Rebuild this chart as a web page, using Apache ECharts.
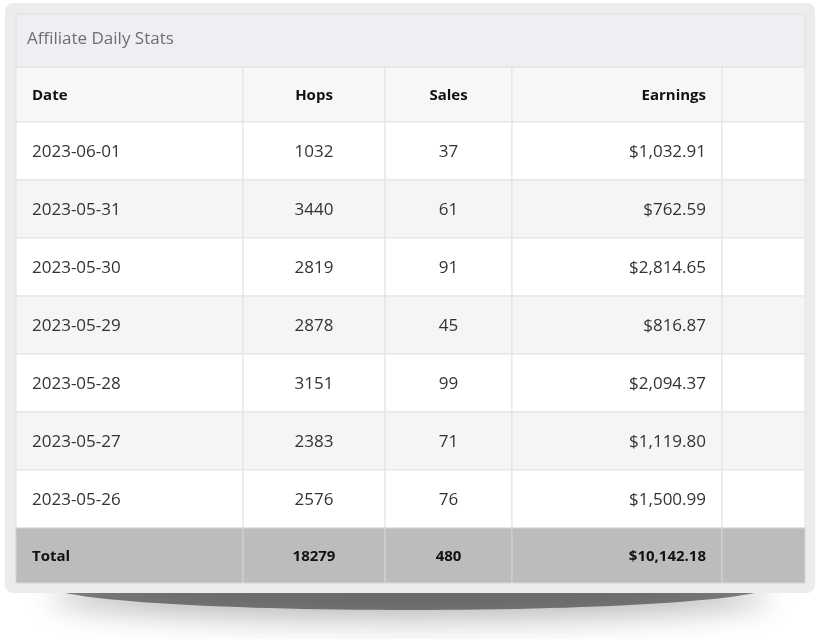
<!DOCTYPE html>
<html lang="en">
<head>
  <meta charset="UTF-8">
  <title>Affiliate Daily Stats</title>
  <style>
    html, body { margin: 0; padding: 0; background: #fff; }
    #main { width: 820px; height: 639px; }
  </style>
  <script src="https://cdn.jsdelivr.net/npm/echarts@6/dist/echarts.min.js"></script>
</head>
<body>
  <div id="main"></div>
  <script>
    var myChart = echarts.init(document.getElementById('main'));

    const title = 'Affiliate Daily Stats';
    const headers = ['Date', 'Hops', 'Sales', 'Earnings', ''];
    const dates = ['2023-06-01', '2023-05-31', '2023-05-30', '2023-05-29', '2023-05-28', '2023-05-27', '2023-05-26'];
    const hops = [1032, 3440, 2819, 2878, 3151, 2383, 2576];
    const sales = [37, 61, 91, 45, 99, 71, 76];
    const earnings = [1032.91, 762.59, 2814.65, 816.87, 2094.37, 1119.80, 1500.99];
    const totals = ['Total', '18279', '480', '$10,142.18', ''];

    // layout in page pixels
    const colEdges = [16, 243, 385, 512, 722, 805];
    const aligns = ['left', 'center', 'center', 'right', 'left'];
    const titleTop = 14, headTop = 67, headH = 55, rowH = 58, totalH = 55;

    function money(v) {
      return '$' + v.toLocaleString('en-US', { minimumFractionDigits: 2, maximumFractionDigits: 2 });
    }

    // build cells: [col, row, text, kind]
    let cells = [];
    headers.forEach((h, c) => cells.push([c, 0, h, 'head']));
    dates.forEach((d, r) => {
      const vals = [d, String(hops[r]), String(sales[r]), money(earnings[r]), ''];
      vals.forEach((v, c) => cells.push([c, r + 1, v, r % 2 === 0 ? 'odd' : 'even']));
    });
    totals.forEach((t, c) => cells.push([c, dates.length + 1, t, 'total']));

    function rowTop(r) {
      if (r === 0) return headTop;
      return headTop + headH + (r - 1) * rowH;
    }
    function rowHeight(r) {
      if (r === 0) return headH;
      if (r === dates.length + 1) return totalH;
      return rowH;
    }
    const fills = { head: '#f7f7f7', odd: '#ffffff', even: '#f5f5f5', total: '#bcbcbc' };

    let option = {
      animation: false,
      grid: { left: 0, right: 0, top: 0, bottom: 0 },
      xAxis: { type: 'value', min: 0, max: 820, show: false },
      yAxis: { type: 'value', min: 0, max: 639, inverse: true, show: false },
      graphic: [
        // soft shadow under the panel
        { type: 'ellipse', shape: { cx: 410, cy: 586, rx: 360, ry: 24 }, z: 0,
          style: { fill: 'rgba(0,0,0,0.45)', shadowBlur: 30, shadowColor: 'rgba(0,0,0,0.6)', shadowOffsetY: 10 } },
        // outer panel
        { type: 'rect', shape: { x: 5, y: 3, width: 810, height: 590, r: 8 }, z: 1,
          style: { fill: '#ececec' } },
        { type: 'rect', shape: { x: 16, y: titleTop, width: 789, height: headTop - titleTop }, z: 2,
          style: { fill: '#eeeff3', stroke: '#dfe0e4', lineWidth: 1 } },
        { type: 'text', x: 27, y: 39, z: 3,
          style: { text: title, fill: '#6f6f6f', font: '17px "Open Sans", sans-serif', textVerticalAlign: 'middle' } }
      ],
      series: [{
        type: 'custom',
        z: 5,
        data: cells,
        renderItem: function (params, api) {
          const c = api.value(0), r = api.value(1);
          const d = cells[params.dataIndex];
          const p0 = api.coord([colEdges[c], rowTop(r)]);
          const p1 = api.coord([colEdges[c + 1], rowTop(r) + rowHeight(r)]);
          const kind = d[3];
          const bold = kind === 'head' || kind === 'total';
          let tx = p0[0] + 16;
          if (aligns[c] === 'center') tx = (p0[0] + p1[0]) / 2;
          if (aligns[c] === 'right') tx = p1[0] - 16;
          return {
            type: 'group',
            children: [
              { type: 'rect', shape: { x: p0[0], y: p0[1], width: p1[0] - p0[0], height: p1[1] - p0[1] },
                style: { fill: fills[kind], stroke: kind === 'total' ? '#d4d4d4' : '#e2e2e2', lineWidth: 1 } },
              { type: 'text', x: tx, y: (p0[1] + p1[1]) / 2 + 1,
                style: { text: d[2], fill: bold ? '#111' : '#333',
                  font: (bold ? 'bold 15px' : '17px') + ' "Open Sans", sans-serif',
                  textAlign: aligns[c], textVerticalAlign: 'middle' } }
            ]
          };
        }
      }]
    };
    myChart.setOption(option);
  </script>
</body>
</html>
